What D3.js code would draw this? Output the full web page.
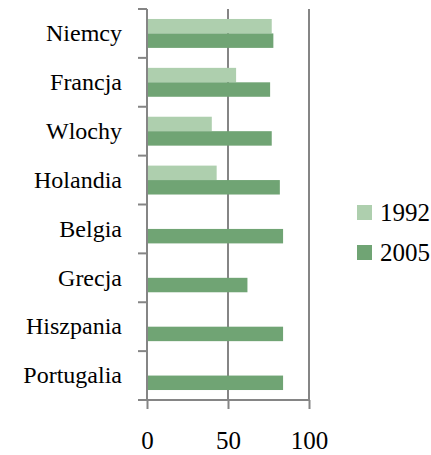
<!DOCTYPE html>
<html>
<head>
<meta charset="utf-8">
<script src="https://cdn.jsdelivr.net/npm/d3@7"></script>
<style>
  html, body { margin: 0; padding: 0; background: #fff; }
  svg { display: block; }
  text { font-family: "Liberation Serif", serif; fill: #000; }
</style>
</head>
<body>
<svg id="chart" width="431" height="455"></svg>
<script>
const categories = ["Niemcy", "Francja", "Wlochy", "Holandia", "Belgia", "Grecja", "Hiszpania", "Portugalia"];
const seriesNames = ["1992", "2005"];
const values1992 = [77, 55, 40, 43, null, null, null, null];
const values2005 = [78, 76, 77, 82, 84, 62, 84, 84];
const xTicks = [0, 50, 100];
const colors = ["#aecfae", "#70a474"];

const FONT = "'Liberation Serif', serif";
const seriesValues = [values1992, values2005];
const svg = d3.select("#chart");
const axisColor = "#858585";

const x = d3.scaleLinear().domain([0, 100]).range([147, 309]);
const y = d3.scaleBand().domain(categories).range([9, 400]).padding(0);
const ySub = d3.scaleBand().domain(seriesNames).range([0, y.bandwidth()])
  .paddingInner(0).paddingOuter(0.69);

// gridlines (behind bars)
svg.append("g").selectAll("line").data(xTicks.filter(d => d > 0)).join("line")
  .attr("x1", d => x(d)).attr("x2", d => x(d))
  .attr("y1", 9).attr("y2", 400)
  .attr("stroke", axisColor).attr("stroke-width", 2);

// bars
const rows = [];
categories.forEach((c, i) => {
  seriesNames.forEach((s, j) => {
    const v = seriesValues[j][i];
    if (v != null) rows.push({ c, s, v, j });
  });
});
svg.append("g").selectAll("rect").data(rows).join("rect")
  .attr("x", x(0))
  .attr("y", d => y(d.c) + ySub(d.s))
  .attr("width", d => x(d.v) - x(0))
  .attr("height", ySub.bandwidth())
  .attr("fill", d => colors[d.j]);

// y axis labels
const yAxis = svg.append("g").attr("transform", `translate(${x(0)},0)`)
  .call(d3.axisLeft(y).tickSize(0).tickPadding(25));
yAxis.attr("font-family", null).attr("font-size", null);
yAxis.select(".domain").remove();
yAxis.selectAll("text").style("font-size", "24px").style("font-family", FONT);

// category boundary ticks
const bounds = categories.map(c => y(c)).concat([y.range()[1]]);
svg.append("g").selectAll("line").data(bounds).join("line")
  .attr("x1", x(0) - 9).attr("x2", x(0))
  .attr("y1", d => d).attr("y2", d => d)
  .attr("stroke", axisColor).attr("stroke-width", 2);

// y axis line
svg.append("line")
  .attr("x1", x(0)).attr("x2", x(0)).attr("y1", 9).attr("y2", 401)
  .attr("stroke", axisColor).attr("stroke-width", 2);

// x axis
const xAxis = svg.append("g").attr("transform", "translate(0,400)")
  .call(d3.axisBottom(x).tickValues(xTicks).tickSize(9).tickPadding(22).tickFormat(d3.format("d")));
xAxis.attr("font-family", null).attr("font-size", null);
xAxis.select(".domain").attr("stroke", axisColor).attr("stroke-width", 2)
  .attr("d", `M${x(0)},0H${x(100)}`);
xAxis.selectAll(".tick line").attr("stroke", axisColor).attr("stroke-width", 2);
xAxis.selectAll("text").style("font-size", "25px").style("font-family", FONT);

// legend
const legend = svg.append("g");
seriesNames.forEach((s, j) => {
  const ly = 205 + j * 40;
  legend.append("rect").attr("x", 357).attr("y", ly).attr("width", 15).attr("height", 15)
    .attr("fill", colors[j]);
  legend.append("text").attr("x", 380).attr("y", ly + 16)
    .style("font-size", "25px").style("font-family", FONT).text(s);
});
</script>
</body>
</html>
